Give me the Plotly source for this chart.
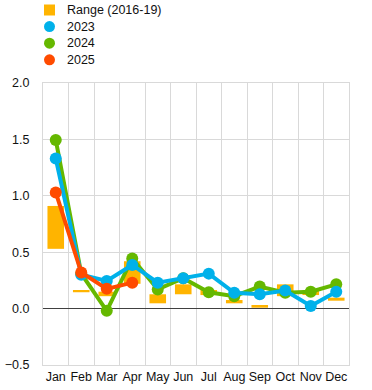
import plotly.graph_objects as go

months = ["Jan", "Feb", "Mar", "Apr", "May", "Jun", "Jul", "Aug", "Sep", "Oct", "Nov", "Dec"]
range_low = [0.53, 0.145, 0.11, 0.22, 0.047, 0.127, 0.12, 0.047, 0.008, 0.11, 0.12, 0.07]
range_high = [0.91, 0.165, 0.15, 0.42, 0.127, 0.215, 0.165, 0.076, 0.032, 0.215, 0.165, 0.097]
y2023 = [1.33, 0.30, 0.245, 0.387, 0.23, 0.27, 0.31, 0.14, 0.127, 0.16, 0.023, 0.15]
y2024 = [1.495, 0.31, -0.02, 0.445, 0.17, 0.27, 0.145, 0.11, 0.195, 0.14, 0.15, 0.215]
months2025 = ["Jan", "Feb", "Mar", "Apr"]
y2025 = [1.03, 0.32, 0.175, 0.23]

legend_names = ["Range (2016-19)", "2023", "2024", "2025"]

C_RANGE = "#FFB400"
C_2023 = "#00B1EA"
C_2024 = "#65B800"
C_2025 = "#FF4B00"
legend_colors = [C_RANGE, C_2023, C_2024, C_2025]
legend_shapes = ["rect", "circle", "circle", "circle"]

FONT = "Liberation Sans, Arial, sans-serif"
W, H = 372, 390
ML, MR, MT, MB = 43, 23, 83, 25
PLOT_H = H - MT - MB

fig = go.Figure()
fig.add_trace(go.Bar(
    x=months, base=range_low, y=[h - l for h, l in zip(range_high, range_low)],
    name="Range (2016-19)",
    marker=dict(color=C_RANGE, line=dict(width=0)), width=0.65, showlegend=False,
    hoverinfo="skip"))
for name, xs, ys, col in [("2024", months, y2024, C_2024), ("2023", months, y2023, C_2023),
                          ("2025", months2025, y2025, C_2025)]:
    fig.add_trace(go.Scatter(x=xs, y=ys, mode="lines+markers", name=name,
                             line=dict(color=col, width=4),
                             marker=dict(color=col, size=12), showlegend=False))

# manual legend (symbol + text) placed above the plot area
shapes = []
annotations = []
for i, (nm, col, shp) in enumerate(zip(legend_names, legend_colors, legend_shapes)):
    ypx = 10 + 16.6 * i
    ypaper = (H - MB - ypx) / PLOT_H
    xpaper = (49.5 - ML) / (W - ML - MR)
    shapes.append(dict(type=shp, xref="paper", yref="paper", xsizemode="pixel",
                       ysizemode="pixel", xanchor=xpaper, yanchor=ypaper,
                       x0=-5.5, x1=5.5, y0=-5.5, y1=5.5,
                       fillcolor=col, line=dict(width=0)))
    annotations.append(dict(text=nm, xref="paper", yref="paper",
                            x=(65 - ML) / (W - ML - MR), y=ypaper,
                            xanchor="left", yanchor="middle", showarrow=False,
                            font=dict(family=FONT, size=12.5, color="#111111")))

fig.update_layout(
    width=W, height=H,
    margin=dict(l=ML, r=MR, t=MT, b=MB, autoexpand=False),
    paper_bgcolor="white", plot_bgcolor="white",
    font=dict(family=FONT, size=12.5, color="#111111"),
    showlegend=False,
    shapes=shapes, annotations=annotations,
)
fig.update_xaxes(type="category", categoryorder="array", categoryarray=months,
                 range=[-0.5, len(months) - 0.5], autorange=False,
                 tickson="boundaries", showgrid=True, gridcolor="#D9D9D9", gridwidth=1,
                 showline=True, linecolor="#D9D9D9", mirror=True, ticks="",
                 tickangle=0, automargin=False, fixedrange=True)
fig.update_yaxes(range=[-0.5, 2.0], autorange=False, dtick=0.5, tickformat=".1f",
                 showgrid=True, gridcolor="#D9D9D9", gridwidth=1, zeroline=True,
                 zerolinecolor="#404040", zerolinewidth=1, showline=True,
                 linecolor="#D9D9D9", mirror=True, automargin=False,
                 ticks="", ticklabelstandoff=10, fixedrange=True)

fig.write_html("out.html")
